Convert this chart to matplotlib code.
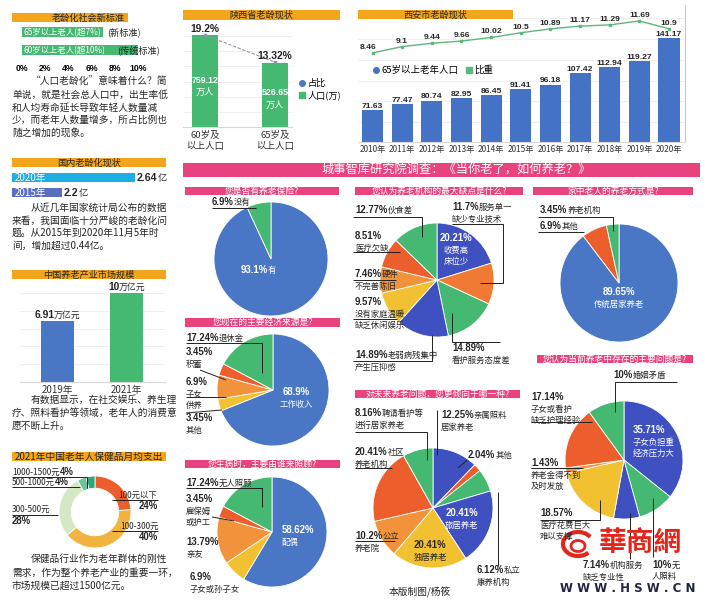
import matplotlib
matplotlib.use('Agg')
import matplotlib.pyplot as plt
from matplotlib import font_manager
from matplotlib.lines import Line2D
from matplotlib.patches import Rectangle, Arc

CJK = ['Noto Sans CJK SC', 'DejaVu Sans']
plt.rcParams['font.family'] = CJK
_installed = {f.name for f in font_manager.fontManager.ttflist}
NUM = 'Liberation Sans' if 'Liberation Sans' in _installed else 'DejaVu Sans'

# ---------------- data ----------------
std_labels = ['65岁以上老人(超7%)', '60岁以上老人(超10%)']
std_values = [7, 10]
std_notes = ['(新标准)', '(传统标准)']
std_ticks = [0, 2, 4, 6, 8, 10]

dom_years = ['2020年', '2015年']
dom_values = [2.64, 2.2]

market_years = ['2019年', '2021年']
market_values = [6.91, 10]

spend_labels = ['100元以下', '100-300元', '300-500元', '500-1000元', '1000-1500元']
spend_values = [24, 40, 28, 4, 4]

sx_groups = ['60岁及\n以上人口', '65岁及\n以上人口']
sx_pop = [759.12, 526.65]
sx_ratio = [19.2, 13.32]

xa_years = ['2010年', '2011年', '2012年', '2013年', '2014年', '2015年',
            '2016年', '2017年', '2018年', '2019年', '2020年']
xa_pop = [71.63, 77.47, 80.74, 82.95, 86.45, 91.41, 96.18, 107.42, 112.94, 119.27, 141.17]
xa_ratio = [8.46, 9.1, 9.44, 9.66, 10.02, 10.5, 10.89, 11.17, 11.29, 11.69, 10.9]

q1_names = ['有', '没有']
q1_values = [93.1, 6.9]
q2_names = ['收费高床位少', '服务单一缺少专业技术', '看护服务态度差', '老弱病残集中产生压抑感',
            '没有家庭温暖缺乏休闲娱乐', '硬件不完善陈旧', '医疗欠缺', '伙食差']
q2_values = [20.21, 11.7, 14.89, 14.89, 9.57, 7.46, 8.51, 12.77]
q3_names = ['传统居家养老', '其他', '养老机构']
q3_values = [89.65, 6.9, 3.45]
q4_names = ['工作收入', '其他', '子女供养', '积蓄', '退休金']
q4_values = [68.9, 3.45, 6.9, 3.45, 17.24]
q5_names = ['配偶', '子女或孙子女', '亲友', '雇保姆或护工', '无人照顾']
q5_values = [58.62, 6.9, 13.79, 3.45, 17.24]
q6_names = ['亲属照料居家养老', '其他', '私立康养机构', '旅居养老', '独居养老',
            '公立养老院', '社区养老机构', '聘请看护等进行居家养老']
q6_values = [12.25, 2.04, 6.12, 20.41, 20.41, 10.2, 20.41, 8.16]
q7_names = ['子女负担重经济压力大', '无人照料', '机构服务缺乏专业性', '医疗花费巨大难以支撑',
            '养老金得不到及时发放', '子女或看护缺乏护理经验', '婚姻矛盾']
q7_values = [35.71, 10, 7.14, 18.57, 1.43, 17.14, 10]

para1 = ['“人口老龄化”意味着什么？简', '单说，就是社会总人口中，出生率低',
         '和人均寿命延长导致年轻人数量减', '少，而老年人数量增多，所占比例也', '随之增加的现象。']
para2 = ['从近几年国家统计局公布的数据', '来看，我国面临十分严峻的老龄化问',
         '题。从2015年到2020年11月5年时', '间，增加超过0.44亿。']
para3 = ['有数据显示，在社交娱乐、养生理', '疗、照料看护等领域，老年人的消费意', '愿不断上升。']
para4 = ['保健品行业作为老年群体的刚性', '需求，作为整个养老产业的重要一环，', '市场规模已超过1500亿元。']

# ---------------- colours ----------------
ORANGE_HDR = '#f3a51c'
PINK = '#e9437f'
BLUE = '#4a76c6'
DBLUE = '#3f50c0'
GREEN = '#45b872'
ORANGE = '#f2923a'
ORANGE2 = '#f07a33'
RED = '#ec5f2c'
YELLOW = '#f2c131'
TXT = '#262626'

W, H = 705, 600
fig = plt.figure(figsize=(W / 100, H / 100), dpi=100)
fig.patch.set_facecolor('white')


def add_ax(x, y, w, h):
    return fig.add_axes([x / W, 1 - (y + h) / H, w / W, h / H])


# overlay in pixel coordinates (y down) for headers, notes and leader lines
ov = add_ax(0, 0, W, H)
ov.set_xlim(0, W)
ov.set_ylim(H, 0)
ov.axis('off')
ov.set_zorder(10)
renderer = fig.canvas.get_renderer()


def rich(x, y, parts, size=6, color=TXT, ha='left', bscale=1.15):
    objs, total = [], 0
    base = y + 0.36 * size * 100 / 72
    for s, bold in parts:
        if not s:
            continue
        fam = [NUM, 'Noto Sans CJK SC'] if bold else CJK
        t = ov.text(x, base, s, fontsize=size * (bscale if bold else 1), family=fam,
                    fontweight='bold' if bold else 'normal',
                    color=color, va='baseline', ha='left')
        w = t.get_window_extent(renderer=renderer).width
        objs.append((t, w))
        total += w
    x0 = x if ha == 'left' else (x - total / 2 if ha == 'center' else x - total)
    for t, w in objs:
        t.set_x(x0)
        x0 += w


def header(text, x, y, w, h, color, tcolor, tx=None, size=6.6):
    ov.add_patch(Rectangle((x, y), w, h, color=color, lw=0))
    ov.text(tx if tx else x + w / 2, y + h / 2 + 0.5, text, ha='center', va='center',
            fontsize=size, color=tcolor)


def lines(polys, lw=0.7, color='#222222'):
    for p in polys:
        xs, ys = zip(*p)
        ov.plot(xs, ys, color=color, lw=lw, solid_capstyle='butt')


def para(textlines, x, y0, step):
    for i, s in enumerate(textlines):
        ov.text(x + (19 if i == 0 else 0), y0 + i * step, s, fontsize=7, color=TXT,
                va='center', ha='left')


def to_px(ax, x, y):
    dx, dy = ax.transData.transform((x, y))
    return dx, H - dy


def pie(values, colors, cx, cy, r, width=None):
    ax = add_ax(cx - r, cy - r, 2 * r, 2 * r)
    wp = dict(edgecolor='white', linewidth=0.6)
    if width:
        wp['width'] = width
    ax.pie(values, colors=colors, startangle=90, counterclock=False, wedgeprops=wp)
    ax.set_xlim(-1, 1)
    ax.set_ylim(-1, 1)
    return ax


def pie_labels(values, names, specs):
    for spec in specs:
        idx, x, y, cuts = spec[:4]
        color = spec[4] if len(spec) > 4 else TXT
        ha = spec[5] if len(spec) > 5 else 'left'
        name, pos = names[idx], 0
        for li, n in enumerate(cuts):
            seg = name[pos:pos + n]
            pos += n
            parts = [(f'{values[idx]:g}%', True), (seg, False)] if li == 0 else [(seg, False)]
            rich(x, y + li * 11.5, parts, 6, color, ha)


# ---------------- left column ----------------
header('老龄化社会新标准', 12, 13, 116, 9, ORANGE_HDR, TXT, tx=88)
ax = add_ax(22, 23, 116, 37)
ax.barh(range(len(std_values)), std_values, height=0.58, color=GREEN)
ax.set_xlim(0, 10)
ax.set_ylim(1.55, -0.5)
ax.set_xticks(std_ticks, [f'{t}%' for t in std_ticks], fontsize=6.2,
              fontweight='bold', family=NUM)
ax.tick_params(length=0, pad=3, left=False, labelleft=False)
for s in ax.spines.values():
    s.set_visible(False)
for i, (lab, note, nx) in enumerate(zip(std_labels, std_notes, [107, 117])):
    px, py = to_px(ax, 0, i)
    rich(px + 1, py, [(lab, False)], 6, 'white')
    rich(nx, py, [(note, False)], 6.6)
para(para1, 12, 82, 12.6)

header('国内老龄化现状', 12, 158, 154, 9, ORANGE_HDR, TXT)
ax = add_ax(12, 170, 156, 30)
ax.barh(range(len(dom_values)), dom_values, height=0.6, color=['#1eaee4', '#5b6fbf'])
ax.set_xlim(1.9, 2.839)
ax.set_ylim(1.5, -0.5)
ax.axis('off')
for i, (yr, v) in enumerate(zip(dom_years, dom_values)):
    px, py = to_px(ax, v, i)
    rich(px + 2, py, [(f'{v:g}', True), ('亿', False)], 6.6)
    rich(15, py, [(yr, False)], 7, 'white')
para(para2, 12, 208, 12.6)

header('中国养老产业市场规模', 12, 270, 154, 9, ORANGE_HDR, TXT)
ax = add_ax(20, 285, 145, 97)
ax.bar(range(len(market_values)), market_values, width=0.48, color=[BLUE, GREEN], zorder=2)
ax.set_xlim(-0.54, 1.55)
ax.set_ylim(0, 10.9)
ax.set_yticks([2, 4, 6, 8, 10])
ax.yaxis.grid(True, color='#ececec', lw=0.6)
ax.set_xticks(range(len(market_years)), market_years, fontsize=7, color='#333333')
ax.tick_params(length=0, pad=2, left=False, labelleft=False)
for k, s in ax.spines.items():
    s.set_visible(k == 'bottom')
ax.spines['bottom'].set_color('#d8d8d8')
for i, v in enumerate(market_values):
    px, py = to_px(ax, i, v)
    rich(px, py - 6, [(f'{v:g}', True), ('万亿元', False)], 6.4, ha='center')
para(para3, 12, 400, 13)

header('2021年中国老年人保健品月均支出', 12, 452, 154, 9, ORANGE_HDR, TXT, size=7)
pie(spend_values, [RED, '#f2b441', '#d5e8c6', '#6cc49a', '#2ea77e'], 95, 512, 36, width=0.34)
rich(12, 472, [(spend_labels[4], False), (f'{spend_values[4]}%', True)], 6)
rich(12, 482, [(spend_labels[3], False), (f'{spend_values[3]}%', True)], 6)
rich(118, 495, [(spend_labels[0], False)], 6)
rich(158, 506, [(f'{spend_values[0]}%', True)], 6, ha='right')
rich(12, 509, [(spend_labels[2], False)], 6)
rich(12, 521, [(f'{spend_values[2]}%', True)], 6)
rich(120, 526, [(spend_labels[1], False)], 6)
rich(158, 537, [(f'{spend_values[1]}%', True)], 6, ha='right')
lines([[(12, 477), (87, 477), (87, 488)], [(12, 487), (80, 487)],
       [(112, 500), (158, 500)], [(12, 515), (58, 515)], [(112, 531), (158, 531)]])
para(para4, 12, 559, 13.5)

# ---------------- Shaanxi ----------------
header('陕西省老龄现状', 183, 10, 157, 10, ORANGE_HDR, TXT)
ax = add_ax(183, 25, 109, 102)
ax.bar(range(len(sx_pop)), sx_pop, width=0.37, color=GREEN, zorder=2)
ax.set_xlim(-0.314, 1.243)
ax.set_ylim(0, 841.6)
ax.set_yticks([125, 250, 375, 500, 625, 750])
ax.yaxis.grid(True, color='#ececec', lw=0.6)
ax.set_xticks(range(len(sx_groups)), sx_groups, fontsize=6.8, color='#333333',
              linespacing=1.2)
ax.tick_params(length=0, pad=3, left=False, labelleft=False)
for k, s in ax.spines.items():
    s.set_visible(k == 'bottom')
ax.spines['bottom'].set_color('#d8d8d8')
for i, v in enumerate(sx_pop):
    px, py = to_px(ax, i, v * 0.45)
    rich(px, py - 6, [(f'{v:g}', True)], 6, 'white', 'center', bscale=1.05)
    rich(px, py + 6, [('万人', False)], 6.6, 'white', 'center')
ax2 = ax.twinx()
ax2.plot(range(len(sx_ratio)), sx_ratio, color='#8a97b0', lw=0.8, ls=(0, (3, 1.5)),
         marker='o', ms=1.8)
ax2.set_ylim(-0.8, 21.4)
ax2.set_axis_off()
for i, v in enumerate(sx_ratio):
    px, py = to_px(ax2, i, v)
    rich(px, py - 6, [(f'{v:g}%', True)], 6.4, ha='center')
ax.legend([Line2D([], [], marker='o', ls='none', color=BLUE, ms=4),
           Line2D([], [], marker='s', ls='none', color=GREEN, ms=4)],
          ['占比', '人口(万)'], loc='center left', bbox_to_anchor=(1.06, 0.37),
          frameon=False, fontsize=6.6, handlelength=0.7, handletextpad=0.3,
          labelspacing=0.25, borderaxespad=0, borderpad=0)

# ---------------- Xi'an ----------------
ax = add_ax(358, 5, 327, 137)
ax.bar(range(len(xa_pop)), xa_pop, width=0.71, color='#4472c4', zorder=2)
ax.set_xlim(-0.49, 10.54)
ax.set_ylim(40.7, 173)
ax.set_yticks([60, 80, 100, 120, 140, 160])
ax.yaxis.grid(True, color='#ececec', lw=0.6)
ax.set_xticks(range(len(xa_years)), xa_years, fontsize=5.9, color='#333333')
ax.tick_params(length=0, pad=2, left=False, labelleft=False)
ax.spines['top'].set_visible(False)
ax.spines['left'].set_visible(False)
ax.spines['right'].set_color('#c8c8c8')
ax.spines['bottom'].set_color('#d8d8d8')
for i, v in enumerate(xa_pop):
    px, py = to_px(ax, i, v)
    rich(px, py - 5, [(f'{v:g}', True)], 5.8, ha='center', bscale=1.05)
ax2 = ax.twinx()
ax2.plot(range(len(xa_ratio)), xa_ratio, color='#5cb87a', lw=1, marker='s', ms=2)
ax2.set_ylim(-0.53, 13.3)
ax2.set_axis_off()
for i, v in enumerate(xa_ratio):
    px, py = to_px(ax2, i, v)
    rich(px - (4 if i == 0 else 0), py - 7, [(f'{v:g}', True)], 5.8, ha='center',
         bscale=1.05)
ax.legend([Line2D([], [], marker='o', ls='none', color='#4472c4', ms=4),
           Line2D([], [], marker='s', ls='none', color='#5cb87a', ms=4)],
          ['65岁以上老年人口', '比重'], loc='center left', bbox_to_anchor=(0.045, 0.525),
          ncol=2, frameon=False, fontsize=6.8, handlelength=0.7, handletextpad=0.2,
          columnspacing=0.8, borderaxespad=0, borderpad=0)
header('西安市老龄现状', 358, 10, 155, 9, ORANGE_HDR, TXT)

# ---------------- survey ----------------
header('城事智库研究院调查：《当你老了，如何养老？》', 183, 163, 517, 14, PINK, 'white',
       tx=456, size=8.8)

header('您是否有养老保险?', 185, 187, 154, 8, PINK, 'white', size=6.3)
pie(q1_values, [BLUE, GREEN], 271, 259, 57)
pie_labels(q1_values, q1_names, [(1, 212, 202, [2]), (0, 258, 270, [1], 'white', 'center')])
lines([[(212, 208), (256, 208)]])

header('您认为养老机构的最大缺点是什么?', 355, 187, 168, 8, PINK, 'white', size=6.3)
pie(q2_values, [DBLUE, ORANGE2, GREEN, DBLUE, YELLOW, ORANGE, RED, GREEN], 437, 280, 57)
pie_labels(q2_values, q2_names, [
    (7, 355, 210, [3]), (6, 355, 236, [0, 4]), (5, 355, 274, [2, 5]),
    (4, 355, 302, [0, 6, 6]), (3, 355, 355, [6, 5]), (1, 452, 207, [4, 6]),
    (2, 452, 348, [0, 7]), (0, 456, 238, [0, 3, 3], 'white', 'center')])
lines([[(353, 217), (422, 217), (422, 237)], [(353, 252), (400, 252)],
       [(353, 280), (396, 280)], [(353, 319), (397, 319)],
       [(353, 361), (432, 361), (432, 335)],
       [(452, 224), (503, 224), (503, 283), (480, 283)],
       [(500, 342), (452, 342), (452, 313)]])

header('家中老人的养老方式是?', 533, 187, 160, 8, PINK, 'white', size=6.3)
pie(q3_values, [BLUE, RED, GREEN], 619, 283, 59)
pie_labels(q3_values, q3_names, [(2, 540, 210, [4]), (1, 540, 226, [2]),
                                 (0, 619, 292, [0, 6], 'white', 'center')])
lines([[(538, 217), (613, 217), (613, 231)], [(538, 232), (584, 232)]])

header('您现在的主要经济来源是?', 185, 318, 155, 9, PINK, 'white', size=6.3)
pie(q4_values, [BLUE, YELLOW, ORANGE, RED, GREEN], 273, 390, 56)
pie_labels(q4_values, q4_names, [
    (4, 186, 338, [3]), (3, 186, 352, [0, 2]), (2, 186, 382, [0, 2, 2]),
    (1, 186, 418, [0, 2]), (0, 296, 392, [0, 4], 'white', 'center')])
lines([[(186, 343), (262, 343), (262, 373)], [(200, 370), (226, 380)],
       [(186, 397), (226, 397)], [(186, 413), (222, 410)]])

header('您生病时，主要由谁来照顾?', 185, 460, 155, 8, PINK, 'white', size=6.3)
pie(q5_values, [BLUE, YELLOW, ORANGE, RED, GREEN], 272, 532, 55)
pie_labels(q5_values, q5_names, [
    (4, 186, 483, [4]), (3, 186, 499, [0, 3, 3]), (2, 186, 542, [0, 2]),
    (1, 190, 577, [0, 6]), (0, 282, 530, [0, 2], 'white', 'left')])
lines([[(186, 488), (262, 488), (262, 507)], [(212, 517), (234, 521)]])

header('对未来养老问题，您更倾向于哪一种?', 355, 390, 165, 8, PINK, 'white', size=6.3)
pie(q6_values, [DBLUE, RED, GREEN, DBLUE, YELLOW, ORANGE, RED, GREEN], 433, 508, 60)
pie_labels(q6_values, q6_names, [
    (7, 355, 413, [5, 6]), (0, 441, 415, [4, 4]), (6, 355, 452, [2, 4]),
    (1, 468, 455, [2]), (5, 355, 536, [2, 3]), (4, 430, 545, [0, 4], TXT, 'center'),
    (3, 462, 513, [0, 4], 'white', 'center'), (2, 477, 570, [2, 4])])
lines([[(355, 432), (427, 432), (427, 460)], [(437, 410), (437, 455)],
       [(355, 468), (392, 468)], [(458, 468), (467, 460)],
       [(355, 541), (395, 541)], [(498, 566), (498, 492)]])
ov.text(420, 592, '本版制图/杨筱', fontsize=7, color=TXT, ha='center', va='center')

header('您认为当前养老中存在的主要问题是?', 537, 355, 156, 8, PINK, 'white', size=6.3)
pie(q7_values, [DBLUE, GREEN, DBLUE, YELLOW, ORANGE, RED, GREEN], 624, 460, 59)
pie_labels(q7_values, q7_names, [
    (6, 613, 375, [4]), (5, 531, 397, [0, 5, 6]), (4, 531, 463, [0, 6, 4]),
    (3, 540, 513, [0, 6, 4]), (0, 633, 430, [0, 5, 5], 'white', 'left'),
    (2, 583, 565, [4, 5]), (1, 652, 565, [1, 3])])
lines([[(677, 382), (615, 382), (615, 412)], [(531, 422), (592, 422)],
       [(531, 468), (583, 468)], [(540, 520), (600, 520), (600, 500)],
       [(653, 498), (653, 557)], [(630, 513), (630, 559)]])

# watermark
ov.add_patch(Arc((578, 544), 30, 24, theta1=40, theta2=330, color='#e3261b', lw=3))
ov.add_patch(Arc((578, 546), 14, 11, theta1=0, theta2=360, color='#e3261b', lw=2))
ov.text(640, 543, '華商網', fontsize=20, color='#e3261b', fontweight='bold',
        family=['Noto Sans CJK TC', 'DejaVu Sans'], ha='center', va='center')
ov.text(628, 588, 'W W W . H S W . C N', fontsize=8.5, color='#1f2540',
        fontweight='bold', family='DejaVu Sans', ha='center', va='center')

fig.savefig('out.png', dpi=100, facecolor='white')
